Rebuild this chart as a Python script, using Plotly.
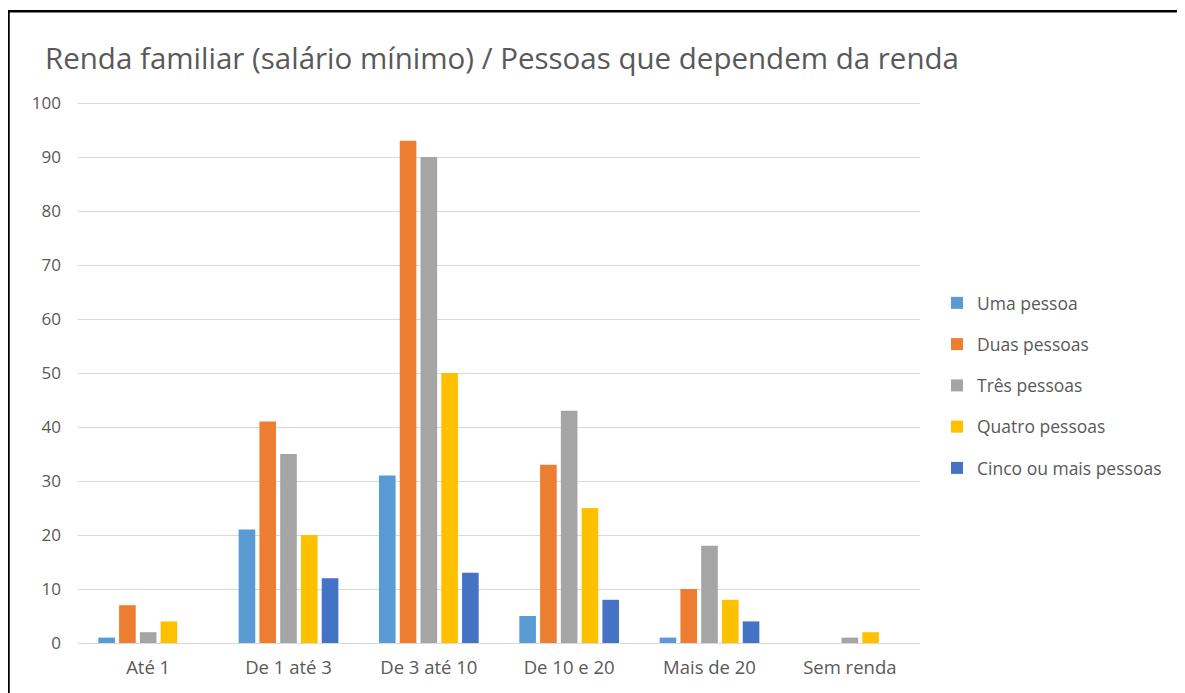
import plotly.graph_objects as go

categories = ["Até 1", "De 1 até 3", "De 3 até 10", "De 10 e 20", "Mais de 20", "Sem renda"]
uma = [1, 21, 31, 5, 1, 0]
duas = [7, 41, 93, 33, 10, 0]
tres = [2, 35, 90, 43, 18, 1]
quatro = [4, 20, 50, 25, 8, 2]
cinco = [0, 12, 13, 8, 4, 0]
y_ticks = [0, 10, 20, 30, 40, 50, 60, 70, 80, 90, 100]

series = [
    ("Uma pessoa", uma, "#5B9BD5"),
    ("Duas pessoas", duas, "#ED7D31"),
    ("Três pessoas", tres, "#A5A5A5"),
    ("Quatro pessoas", quatro, "#FFC000"),
    ("Cinco ou mais pessoas", cinco, "#4472C4"),
]

fig = go.Figure()
for name, vals, color in series:
    fig.add_trace(go.Bar(x=categories, y=vals, name=name, marker_color=color,
                         marker_line_width=0, legendgroup=name))

# page body has an 8px margin; figure coordinates below are relative to the figure
OFF = 8
W, H = 1185 - OFF, 693 - OFF
L = 78 - OFF
T = 100 - OFF          # a little headroom so the 100 gridline is drawn
Rt = 920 - OFF
Bt = 643 - OFF
R = W - Rt
B = H - Bt
pw = W - L - R
ph = H - T - B
ytop = 100 * ph / (643 - 103)


def px(xs):
    return (xs - OFF - L) / pw


def py(ys):
    return (Bt - (ys - OFF)) / ph


fig.update_layout(
    width=W, height=H,
    margin=dict(l=L, r=R, t=T, b=B),
    paper_bgcolor="white", plot_bgcolor="white",
    barmode="group", bargap=0.26, bargroupgap=0.2,
    font=dict(family="Open Sans, Liberation Sans, sans-serif", color="#595959"),
    title=dict(text="Renda familiar (salário mínimo) / Pessoas que dependem da renda",
               x=(45 - OFF) / W, xanchor="left", xref="container",
               y=1 - (59 - OFF) / H, yanchor="middle", yref="container",
               font=dict(size=29.5, color="#595959")),
    legend=dict(x=px(937), xanchor="left", y=py(285), yanchor="top",
                font=dict(size=17.5, color="#595959"), traceorder="grouped",
                tracegroupgap=15.5, bgcolor="rgba(0,0,0,0)"),
    xaxis=dict(showgrid=False, showline=True, linecolor="#D9D9D9", linewidth=1,
               ticks="", tickfont=dict(size=18.5, color="#595959"), ticklabelstandoff=8),
    yaxis=dict(range=[0, ytop], tickvals=y_ticks,
               showgrid=True, gridcolor="#D9D9D9", gridwidth=1,
               zeroline=False, showline=False, ticks="",
               tickfont=dict(size=17, color="#595959"), ticklabelstandoff=16),
    shapes=[
        dict(type="line", xref="paper", yref="paper",
             x0=px(8), x1=px(1190), y0=py(11.3), y1=py(11.3),
             line=dict(color="black", width=2.5)),
        dict(type="line", xref="paper", yref="paper",
             x0=px(8.5), x1=px(8.5), y0=py(11.3), y1=py(700),
             line=dict(color="black", width=2.5)),
    ],
)

fig.write_html("out.html")
